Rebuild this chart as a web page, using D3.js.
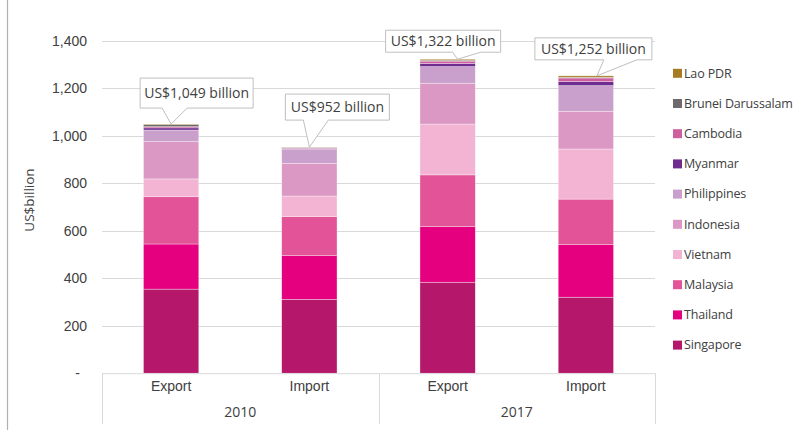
<!DOCTYPE html>
<html>
<head>
<meta charset="utf-8">
<script src="https://cdn.jsdelivr.net/npm/d3@7"></script>
<style>
  html, body { margin: 0; padding: 0; background: #fff; }
  svg { display: block; font-family: "Open Sans", "Noto Sans", sans-serif; }
</style>
</head>
<body>
<svg id="chart" width="796" height="430"></svg>
<script>
// ASEAN merchandise trade by member state, US$ billion
const years = ["2010", "2017"];
const flows = ["Export", "Import"];
const countries = ["Singapore", "Thailand", "Malaysia", "Vietnam", "Indonesia",
  "Philippines", "Myanmar", "Cambodia", "Brunei Darussalam", "Lao PDR"];
// values per country: [2010 Export, 2010 Import, 2017 Export, 2017 Import]
const singapore   = [354, 311, 383, 320];
const thailand    = [190, 184, 234, 221];
const malaysia    = [199, 164, 218, 192];
const vietnam     = [75, 87, 214, 211];
const indonesia   = [157, 138, 172, 159];
const philippines = [49, 59, 70, 108];
const myanmar     = [9, 3, 13, 17];
const cambodia    = [5, 3, 10, 15];
const brunei      = [9, 2, 4, 3];
const lao         = [2, 1, 4, 6];
const yTicks = [0, 200, 400, 600, 800, 1000, 1200, 1400];

const seriesValues = [singapore, thailand, malaysia, vietnam, indonesia,
  philippines, myanmar, cambodia, brunei, lao];
const colors = ["#B5176A", "#E5007F", "#E35397", "#F3B4D3", "#DC98C4",
  "#C9A0CB", "#6E2C8E", "#CD5FA0", "#6E6A6B", "#A67C22"];

// bars: one per year/flow pair
const bars = [];
years.forEach(y => flows.forEach(f => bars.push({ key: y + "|" + f, year: y, flow: f })));
bars.forEach((b, i) => countries.forEach((c, j) => { b[c] = seriesValues[j][i]; }));

const svg = d3.select("#chart");
const textColor = "#404040";
const plot = { left: 102, right: 655, top: 40.7, bottom: 373.2 };

const x = d3.scaleBand().domain(bars.map(b => b.key))
  .range([plot.left, plot.right]).paddingInner(0.6).paddingOuter(0.3);
const y = d3.scaleLinear().domain([0, 1400]).range([plot.bottom, plot.top]);

// outer frame edge
svg.append("line").attr("x1", 7.5).attr("x2", 7.5).attr("y1", 0).attr("y2", 430)
  .attr("stroke", "#b0b0b0").attr("stroke-width", 1.2);

// gridlines
svg.append("g").selectAll("line").data(yTicks.filter(d => d > 0)).join("line")
  .attr("x1", plot.left).attr("x2", plot.right)
  .attr("y1", d => Math.round(y(d)) + 0.5).attr("y2", d => Math.round(y(d)) + 0.5)
  .attr("stroke", "#d9d9d9").attr("stroke-width", 1);

// y axis labels
const yAxis = d3.axisLeft(y).tickValues(yTicks).tickSize(0).tickPadding(0)
  .tickFormat(d => d === 0 ? "-" : d3.format(",")(d));
const yg = svg.append("g").attr("transform", "translate(87,0)").call(yAxis);
yg.select(".domain").remove();
yg.selectAll("text").attr("fill", textColor).style("font-size", "14px")
  .style("font-family", "inherit")
  .attr("dx", d => d === 0 ? -7 : 0);

svg.append("text").attr("transform", "translate(34,200) rotate(-90)")
  .attr("text-anchor", "middle").attr("fill", textColor).style("font-size", "13.5px")
  .text("US$billion");

// stacked bars
const stack = d3.stack().keys(countries);
const layers = stack(bars);
svg.append("g").selectAll("g").data(layers).join("g")
  .attr("fill", (d, i) => colors[i])
  .selectAll("rect").data(d => d).join("rect")
  .attr("x", d => x(d.data.key))
  .attr("width", x.bandwidth())
  .attr("y", d => y(d[1]))
  .attr("height", d => Math.max(0, y(d[0]) - y(d[1])))
  .attr("stroke", "rgba(255,255,255,0.55)").attr("stroke-width", 0.6);

// category axis: baseline, dividers, labels
const axisColor = "#d9d9d9";
svg.append("line").attr("x1", plot.left).attr("x2", plot.right)
  .attr("y1", plot.bottom + 0.5).attr("y2", plot.bottom + 0.5)
  .attr("stroke", axisColor);
const yearEdges = [plot.left, (plot.left + plot.right) / 2, plot.right];
svg.append("g").selectAll("line").data(yearEdges).join("line")
  .attr("x1", d => Math.round(d) + 0.5).attr("x2", d => Math.round(d) + 0.5)
  .attr("y1", plot.bottom).attr("y2", 424)
  .attr("stroke", axisColor);

const xAxis = d3.axisBottom(x).tickSize(0).tickPadding(0).tickFormat(k => k.split("|")[1]);
const xg = svg.append("g").attr("transform", "translate(0,381)").call(xAxis);
xg.select(".domain").remove();
xg.selectAll("text").attr("fill", textColor).style("font-size", "14px")
  .style("font-family", "inherit");

svg.append("g").selectAll("text").data(years).join("text")
  .attr("x", (d, i) => (yearEdges[i] + yearEdges[i + 1]) / 2)
  .attr("y", 417).attr("text-anchor", "middle")
  .attr("fill", textColor).style("font-size", "14px").text(d => d);

// total callouts
const totals = bars.map(b => d3.sum(countries, c => b[c]));
// box extents relative to bar centre / bar top, pointer base and tip offsets
const callouts = [
  { box: [-31, 82, -46, -16], base: [-9, 16], tip: 0 },
  { box: [-24, 80, -53, -27], base: [-6, 19], tip: 0 },
  { box: [-62, 53, -29, -7], base: [5, 33], tip: 10 },
  { box: [-51, 66, -38, -16], base: [18, 51], tip: 11 }
];
const cg = svg.append("g");
bars.forEach((b, i) => {
  const cx = x(b.key) + x.bandwidth() / 2;
  const top = y(totals[i]);
  const c = callouts[i];
  const x0 = cx + c.box[0], x1 = cx + c.box[1];
  const y0 = top + c.box[2], y1 = top + c.box[3];
  const p = d3.path();
  p.moveTo(x0, y0); p.lineTo(x1, y0); p.lineTo(x1, y1);
  p.lineTo(cx + c.base[1], y1); p.lineTo(cx + c.tip, top);
  p.lineTo(cx + c.base[0], y1); p.lineTo(x0, y1); p.closePath();
  cg.append("path").attr("d", p.toString()).attr("fill", "#fff")
    .attr("stroke", "#bfbfbf").attr("stroke-width", 1);
  cg.append("text").attr("x", (x0 + x1) / 2).attr("y", (y0 + y1) / 2)
    .attr("dy", "0.35em").attr("text-anchor", "middle")
    .attr("fill", textColor).style("font-size", "14px")
    .text("US$" + d3.format(",")(totals[i]) + " billion");
});

// legend, top entry is the top of the stack
const legendItems = countries.map((c, i) => ({ name: c, color: colors[i] })).reverse();
const lg = svg.append("g").selectAll("g").data(legendItems).join("g")
  .attr("transform", (d, i) => `translate(673,${73.3 + i * 30.2})`);
lg.append("rect").attr("x", 0).attr("y", -4.5).attr("width", 9).attr("height", 9)
  .attr("fill", d => d.color);
lg.append("text").attr("x", 11).attr("dy", "0.35em").attr("fill", textColor)
  .style("font-size", "12.5px").style("letter-spacing", "-0.15px").text(d => d.name);
</script>
</body>
</html>
